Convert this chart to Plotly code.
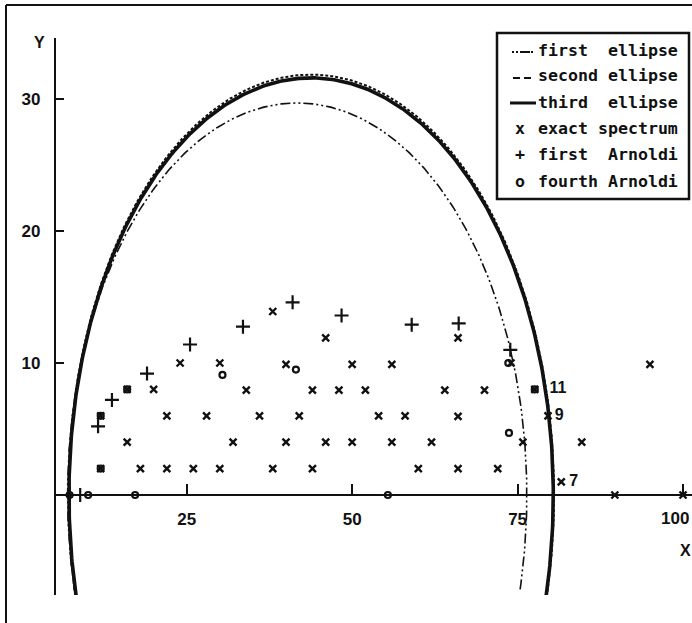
import numpy as np
import plotly.graph_objects as go

# ---------------- data ----------------
exact_x = [38, 46, 66, 24, 30, 40, 50, 56, 74, 95,
           16, 20, 34, 44, 48, 52, 64, 70, 77.6,
           12, 22, 28, 36, 42, 54, 58, 66, 79.6,
           16, 32, 40, 46, 50, 56, 62, 75.8, 84.7,
           12, 18, 22, 26, 30, 38, 44, 60, 66, 72,
           81.6, 89.7, 100]
exact_y = [13.9, 11.9, 11.9, 10, 10, 9.9, 9.9, 9.9, 10, 9.9,
           8, 8, 7.95, 7.95, 7.95, 7.95, 7.95, 7.95, 8,
           6, 6, 6, 6, 6, 6, 6, 5.95, 6,
           4, 4, 4, 4, 4, 4, 4, 4, 4,
           2, 2, 2, 2, 2, 2, 2, 2, 2, 2,
           1.0, 0, 0]

arn1_x = [8.9, 11.6, 13.7, 19.0, 25.5, 33.5, 41.0, 48.4, 59.0, 66.1, 73.9]
arn1_y = [0, 5.2, 7.2, 9.2, 11.4, 12.75, 14.6, 13.6, 12.9, 13.0, 11.0]

arn4_x = [7.3, 10.1, 17.2, 55.4, 12, 12, 16, 30.4, 41.5, 73.6, 77.6, 73.7]
arn4_y = [0, 0, 0, 0, 2, 6, 8, 9.1, 9.5, 10, 8, 4.7]

point_labels = ["11", "9", "7"]
label_x = [81.1, 81.3, 83.5]
label_y = [8.0, 6.0, 1.0]

# ellipses: (center x, semi-axis a, semi-axis b, lowest y drawn)
ell_first = (41.7, 34.7, 29.7, -7.2)
ell_second = (43.8, 36.7, 31.85, -7.6)
ell_third = (43.8, 36.6, 31.6, -7.6)

x_ticks = [25, 50, 75, 100]
y_ticks = [10, 20, 30]

legend_rows = ["first  ellipse", "second ellipse", "third  ellipse",
               "exact spectrum", "first  Arnoldi", "fourth Arnoldi"]
legend_glyphs = ["x", "+", "o"]


def ellipse(p, n=400):
    xc, a, b, ymin = p
    t0 = np.arcsin(-ymin / b)
    t = np.linspace(np.pi + t0, -t0, n)
    return xc + a * np.cos(t), b * np.sin(t)


# ---------------- geometry of the page ----------------
W, H = 692, 623
L, R, T, B = 56, 0, 38, 28
pw, ph = W - L - R, H - T - B
X0PX, SX = 21.3, 6.617     # pixel of x=0 and pixels per unit
Y0PX, SY = 495.0, 13.2
xr = [(L - X0PX) / SX, (W - R - X0PX) / SX]
yr = [(Y0PX - (H - B)) / SY, (Y0PX - T) / SY]


def px(x):
    return (x - L) / pw


def py(y):
    return (H - B - y) / ph


BLACK = "#111111"
NARROW = "Liberation Sans, Arial, sans-serif"
MONO = "DejaVu Sans Mono, Liberation Mono, monospace"

fig = go.Figure()

for p, dash, w in [(ell_first, "10px,3px,2px,3px,2px,3px", 1.6),
                   (ell_second, "3px,2px", 2.0),
                   (ell_third, "solid", 3.6)]:
    ex, ey = ellipse(p)
    fig.add_trace(go.Scatter(x=ex, y=ey, mode="lines",
                             line=dict(color=BLACK, width=w, dash=dash),
                             hoverinfo="skip", showlegend=False))

fig.add_trace(go.Scatter(x=exact_x, y=exact_y, mode="markers",
                         marker=dict(symbol="x-thin", size=7,
                                     line=dict(color=BLACK, width=2.4)),
                         showlegend=False))
fig.add_trace(go.Scatter(x=arn1_x, y=arn1_y, mode="markers",
                         marker=dict(symbol="cross-thin", size=10,
                                     line=dict(color=BLACK, width=2.2)),
                         showlegend=False))
fig.add_trace(go.Scatter(x=arn4_x, y=arn4_y, mode="markers",
                         marker=dict(symbol="circle-open", size=6, color=BLACK,
                                     line=dict(color=BLACK, width=2.2)),
                         showlegend=False))
fig.add_trace(go.Scatter(x=label_x, y=label_y, mode="text",
                         text=["<b>%s</b>" % t for t in point_labels],
                         textfont=dict(family=NARROW, size=16, color=BLACK),
                         textposition="middle center", showlegend=False,
                         hoverinfo="skip"))

shapes = []
# page frame (left and top)
shapes.append(dict(type="line", xref="paper", yref="paper",
                   x0=px(6), x1=px(6), y0=py(5), y1=py(H + 5),
                   line=dict(color=BLACK, width=2)))
shapes.append(dict(type="line", xref="paper", yref="paper",
                   x0=px(6), x1=px(W + 5), y0=py(5), y1=py(5),
                   line=dict(color=BLACK, width=2)))
# legend box
shapes.append(dict(type="rect", xref="paper", yref="paper",
                   x0=px(497), x1=px(689), y0=py(199), y1=py(33),
                   line=dict(color=BLACK, width=2.5), fillcolor="white",
                   layer="above"))
row_y = [50, 76, 102, 128, 155, 181]
# legend line samples
shapes.append(dict(type="line", xref="paper", yref="paper",
                   x0=px(512), x1=px(534), y0=py(row_y[0] + 2), y1=py(row_y[0] + 2),
                   line=dict(color=BLACK, width=1.8, dash="2px,2px,2px,2px,10px,1px"),
                   layer="above"))
shapes.append(dict(type="line", xref="paper", yref="paper",
                   x0=px(513), x1=px(534), y0=py(row_y[1] + 2), y1=py(row_y[1] + 2),
                   line=dict(color=BLACK, width=1.8, dash="7px,4px"),
                   layer="above"))
shapes.append(dict(type="line", xref="paper", yref="paper",
                   x0=px(510), x1=px(536), y0=py(row_y[2] + 1), y1=py(row_y[2] + 1),
                   line=dict(color=BLACK, width=3), layer="above"))

annotations = []
for txt, yy in zip(legend_rows, row_y):
    annotations.append(dict(text="<b>%s</b>" % txt, xref="paper", yref="paper",
                            x=px(680), y=py(yy), xanchor="right", yanchor="middle",
                            showarrow=False,
                            font=dict(family=MONO, size=16.6, color=BLACK)))
for g, yy in zip(legend_glyphs, row_y[3:]):
    annotations.append(dict(text="<b>%s</b>" % g, xref="paper", yref="paper",
                            x=px(520), y=py(yy), xanchor="center", yanchor="middle",
                            showarrow=False,
                            font=dict(family=MONO, size=16.6, color=BLACK)))
annotations.append(dict(text="<b>Y</b>", xref="paper", yref="paper",
                        x=px(39.5), y=py(42), xanchor="center", yanchor="middle",
                        showarrow=False, font=dict(family=NARROW, size=16, color=BLACK)))
annotations.append(dict(text="<b>X</b>", xref="paper", yref="paper",
                        x=px(685), y=py(550), xanchor="center", yanchor="middle",
                        showarrow=False, font=dict(family=NARROW, size=16, color=BLACK)))
# the last x tick label sits on the right edge of the page; keep it inside
annotations.append(dict(text="<b>%d</b>" % x_ticks[-1], xref="paper", yref="paper",
                        x=px(691), y=py(518), xanchor="right", yanchor="middle",
                        showarrow=False, font=dict(family=NARROW, size=17, color=BLACK)))

fig.update_layout(
    width=W, height=H,
    margin=dict(l=L, r=R, t=T, b=B, pad=0),
    paper_bgcolor="white", plot_bgcolor="white",
    showlegend=False,
    shapes=shapes, annotations=annotations,
    xaxis=dict(range=xr, anchor="free", position=(0 - yr[0]) / (yr[1] - yr[0]),
               showline=True, linecolor=BLACK, linewidth=2.2,
               ticks="inside", ticklen=10, tickwidth=2, tickcolor=BLACK,
               tickvals=x_ticks,
               ticktext=["<b>%d</b>" % v for v in x_ticks[:-1]] + [""],
               tickfont=dict(family=NARROW, size=17, color=BLACK),
               ticklabelstandoff=8,
               showgrid=False, zeroline=False, fixedrange=True),
    yaxis=dict(range=yr, showline=True, linecolor=BLACK, linewidth=2.2,
               ticks="inside", ticklen=8, tickwidth=2, tickcolor=BLACK,
               tickvals=y_ticks, ticktext=["<b>%d</b>" % v for v in y_ticks],
               tickfont=dict(family=NARROW, size=17, color=BLACK),
               ticklabelstandoff=10,
               showgrid=False, zeroline=False, fixedrange=True),
)

fig.write_html("out.html", config={"displayModeBar": False},
               post_script="document.body.style.margin='0px';"
                           "document.body.style.overflow='hidden';")
